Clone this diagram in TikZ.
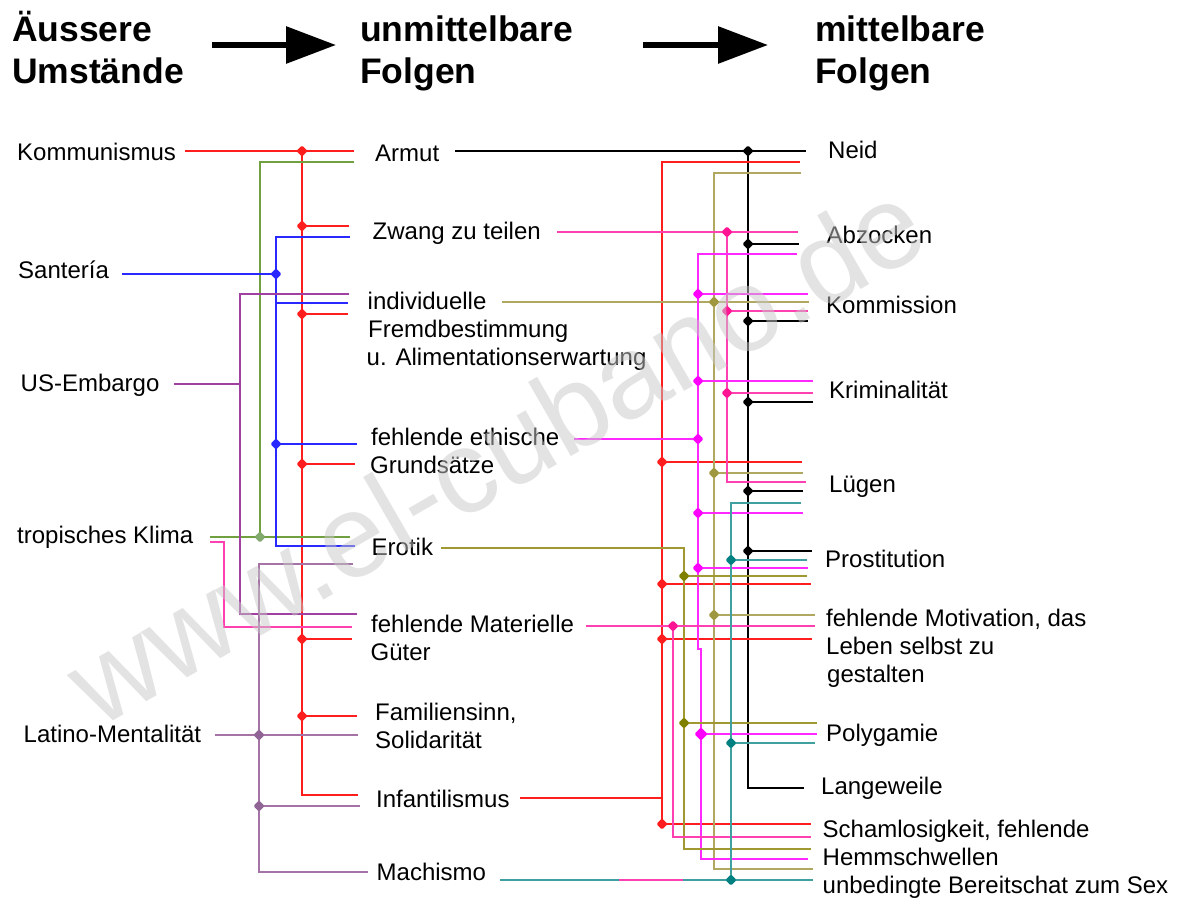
\documentclass[tikz,border=0pt]{standalone}
\usepackage{fontspec}
\setmainfont{Liberation Sans}
\usetikzlibrary{arrows.meta,shapes.geometric}
\definecolor{cR}{RGB}{255,30,30}
\definecolor{cG}{RGB}{112,160,64}
\definecolor{cGd}{RGB}{130,170,110}
\definecolor{cB}{RGB}{40,40,255}
\definecolor{cP}{RGB}{160,64,160}
\definecolor{cL}{RGB}{165,115,165}
\definecolor{cLd}{RGB}{145,100,150}
\definecolor{cK}{RGB}{255,64,176}
\definecolor{cKd}{RGB}{255,20,147}
\definecolor{cM}{RGB}{255,40,255}
\definecolor{cMd}{RGB}{255,0,255}
\definecolor{cO}{RGB}{176,168,96}
\definecolor{cOd}{RGB}{160,152,64}
\definecolor{cE}{RGB}{160,152,48}
\definecolor{cEd}{RGB}{128,128,0}
\definecolor{cT}{RGB}{64,160,160}
\definecolor{cTd}{RGB}{0,128,128}
\definecolor{wmgray}{RGB}{200,200,200}
\newcommand\dfbody{\fontsize{24}{28}\selectfont}
\newcommand\dfhead{\fontsize{35.5}{42}\selectfont\bfseries}
\begin{document}
\begin{tikzpicture}[x=1pt,y=-1pt,
  lbl/.style={anchor=base west,inner sep=0pt,font=\dfbody},
  hd/.style={anchor=base west,inner sep=0pt,font=\dfhead},
  ln/.style={line width=1.3pt},
  jd/.style={diamond,fill=#1,inner sep=2.9pt,rounded corners=1.5pt},
  bigarrow/.style={line width=6pt,-{Triangle[length=50pt,width=36pt]}}]
\useasboundingbox[fill=white] (0,0) rectangle (1185,903);

% headings
\node[hd] (h1a) at (12,41) {Äussere};
\node[hd] (h1b) at (12,83) {Umstände};
\node[hd] (h2a) at (360,41) {unmittelbare};
\node[hd] (h2b) at (360,83) {Folgen};
\node[hd] (h3a) at (815,41) {mittelbare};
\node[hd] (h3b) at (815,83) {Folgen};
\coordinate (a1s) at (212,45); \coordinate (a1e) at (336,45);
\coordinate (a2s) at (643,45); \coordinate (a2e) at (768,45);
\draw[bigarrow] (a1s) -- (a1e);
\draw[bigarrow] (a2s) -- (a2e);

% left labels
\node[lbl] (kom) at (17,160) {Kommunismus};
\node[lbl] (san) at (18,278) {Santería};
\node[lbl] (use) at (20.5,391) {US-Embargo};
\node[lbl] (tro) at (17,543) {tropisches Klima};
\node[lbl] (lat) at (23.5,742) {Latino-Mentalität};

% middle labels
\node[lbl] (arm) at (375,161) {Armut};
\node[lbl] (zwa) at (372.5,239) {Zwang zu teilen};
\node[lbl] (ind1) at (367.5,309) {individuelle};
\node[lbl] (ind2) at (368,337) {Fremdbestimmung};
\node[lbl] (ind3) at (366.5,365) {u. Alimentationserwartung};
\node[lbl] (eth1) at (371,445) {fehlende ethische};
\node[lbl] (eth2) at (370,473.5) {Grundsätze};
\node[lbl] (ero) at (371.5,555) {Erotik};
\node[lbl] (mat1) at (371,632) {fehlende Materielle};
\node[lbl] (mat2) at (370.5,660) {Güter};
\node[lbl] (fam1) at (375,720) {Familiensinn,};
\node[lbl] (fam2) at (375,748.5) {Solidarität};
\node[lbl] (inf) at (376,807) {Infantilismus};
\node[lbl] (mac) at (376.5,880.5) {Machismo};

% right labels
\node[lbl] (nei) at (828,158.5) {Neid};
\node[lbl] (abz) at (826.5,243.5) {Abzocken};
\node[lbl] (kms) at (826,313) {Kommission};
\node[lbl] (kri) at (829,398.5) {Kriminalität};
\node[lbl] (lue) at (829,492) {Lügen};
\node[lbl] (pro) at (825,567.5) {Prostitution};
\node[lbl] (mot1) at (826,626) {fehlende Motivation, das};
\node[lbl] (mot2) at (826,654) {Leben selbst zu};
\node[lbl] (mot3) at (827,682) {gestalten};
\node[lbl] (pol) at (826,741) {Polygamie};
\node[lbl] (lan) at (821,794.5) {Langeweile};
\node[lbl] (sch1) at (822.5,837) {Schamlosigkeit, fehlende};
\node[lbl] (sch2) at (822.5,865) {Hemmschwellen};
\node[lbl] (unb) at (822.5,893.5) {unbedingte Bereitschat zum Sex};

% ---------- left network ----------
% red (Kommunismus)
\draw[ln,cR] (185,151) -- (354,151);
\draw[ln,cR] (302,151) -- (302,795) -- (358,795);
\foreach \y/\e in {226/349,314/348,464/355,639/352,716/357}
  \draw[ln,cR] (302,\y) -- (\e,\y);
% green (tropisches Klima)
\draw[ln,cG] (354,162) -- (260,162) -- (260,537);
\draw[ln,cG] (210,537) -- (350,537);
% blue (Santeria)
\draw[ln,cB] (350,237) -- (276,237) -- (276,546) -- (355,546);
\draw[ln,cB] (122,274) -- (276,274);
\draw[ln,cB] (276,303) -- (348,303);
\draw[ln,cB] (276,444) -- (357,444);
% purple (US-Embargo)
\draw[ln,cP] (349,294) -- (240,294) -- (240,614) -- (357,614);
\draw[ln,cP] (174,384) -- (240,384);
% pink (tropisches Klima)
\draw[ln,cK] (210,542) -- (224,542) -- (224,627) -- (352,627);
% lavender (Latino)
\draw[ln,cL] (353,564) -- (259,564) -- (259,872) -- (368,872);
\draw[ln,cL] (215,735) -- (358,735);
\draw[ln,cL] (259,806) -- (360,806);

% ---------- right network ----------
% black (Armut)
\draw[ln,black] (455,151) -- (806,151);
\draw[ln,black] (748,151) -- (748,788) -- (804,788);
\foreach \y/\e in {244/799,321/808,402/813,491/803,551/812}
  \draw[ln,black] (748,\y) -- (\e,\y);
% red (Infantilismus)
\draw[ln,cR] (800,162) -- (662,162) -- (662,824) -- (811,824);
\draw[ln,cR] (520,798) -- (662,798);
\foreach \y/\e in {462/802,584/811,639/812}
  \draw[ln,cR] (662,\y) -- (\e,\y);
% olive light (individuelle)
\draw[ln,cO] (801,173) -- (714,173) -- (714,869) -- (813,869);
\draw[ln,cO] (502,302) -- (809,302);
\foreach \y/\e in {473/803,615/815}
  \draw[ln,cO] (714,\y) -- (\e,\y);
% pink (Zwang zu teilen)
\draw[ln,cK] (557,232) -- (798,232);
\draw[ln,cK] (727,232) -- (727,482) -- (806,482);
\foreach \y/\e in {311/808,393/813}
  \draw[ln,cK] (727,\y) -- (\e,\y);
% magenta (fehlende ethische)
\draw[ln,cM] (797,254) -- (698,254) -- (698,649) -- (701,649) -- (701,859) -- (808,859);
\draw[ln,cM] (574,439) -- (698,439);
\foreach \y/\e in {294/808,381/813,513/803,568/808}
  \draw[ln,cM] (698,\y) -- (\e,\y);
\draw[ln,cM] (701,734) -- (817,734);
% olive dark (Erotik)
\draw[ln,cE] (441,548) -- (684,548) -- (684,849) -- (811,849);
\foreach \y/\e in {576/807,723/817}
  \draw[ln,cE] (684,\y) -- (\e,\y);
% pink (fehlende Materielle)
\draw[ln,cK] (586,626) -- (815,626);
\draw[ln,cK] (673,626) -- (673,837) -- (811,837);
% teal (Machismo)
\draw[ln,cT] (801,503) -- (731,503) -- (731,880);
\draw[ln,cT] (500,880) -- (813,880);
\draw[ln,cK] (619,880) -- (683,880);
\foreach \y/\e in {560/807,743/815}
  \draw[ln,cT] (731,\y) -- (\e,\y);

% ---------- junction dots ----------
\foreach \y [count=\i] in {151,226,314,464,639,716}
  \node[jd=cR] (lr\i) at (302,\y) {};
\node[jd=cGd] (lg1) at (260,537) {};
\node[jd=cB] (lb1) at (276,274) {};
\node[jd=cB] (lb2) at (276,444) {};
\node[jd=cLd] (ll1) at (259,735) {};
\node[jd=cLd] (ll2) at (259,806) {};
\foreach \y [count=\i] in {151,244,321,402,491,551}
  \node[jd=black] (rk\i) at (748,\y) {};
\foreach \y [count=\i] in {462,584,639,824}
  \node[jd=cR] (rr\i) at (662,\y) {};
\foreach \y [count=\i] in {302,473,615}
  \node[jd=cOd] (ro\i) at (714,\y) {};
\foreach \y [count=\i] in {232,311,393}
  \node[jd=cKd] (rp\i) at (727,\y) {};
\node[jd=cKd] (rp4) at (673,626) {};
\foreach \y [count=\i] in {294,381,439,513,568}
  \node[jd=cMd] (rm\i) at (698,\y) {};
\node[jd=cMd,inner sep=3.4pt] (rm6) at (701,734) {};
\foreach \y [count=\i] in {576,723}
  \node[jd=cEd] (re\i) at (684,\y) {};
\foreach \y [count=\i] in {560,743,880}
  \node[jd=cTd] (rt\i) at (731,\y) {};

% watermark
\node[rotate=30,inner sep=0pt,text=wmgray,text opacity=0.5,
  font=\fontsize{118}{118}\selectfont] (wm) at (495,452) {www.el-cubano.de};
\end{tikzpicture}
\end{document}
